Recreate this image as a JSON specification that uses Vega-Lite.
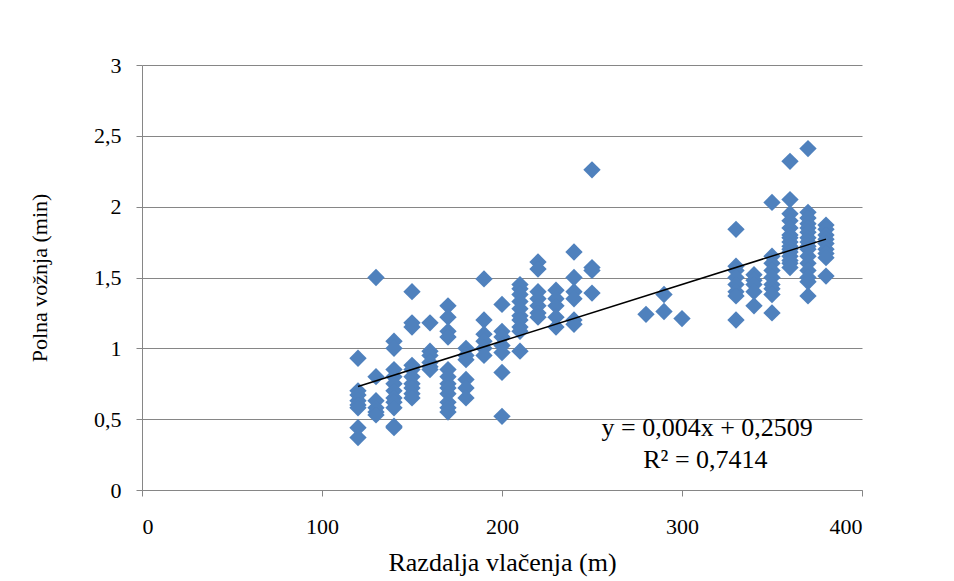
{
  "$schema": "https://vega.github.io/schema/vega-lite/v6.json",
  "width": 720,
  "height": 425,
  "autosize": {"type": "none"},
  "padding": {"left": 142, "top": 65, "right": 92, "bottom": 91},
  "background": "white",
  "config": {
    "view": {"stroke": null},
    "font": "Liberation Serif",
    "axis": {
      "labelFont": "Liberation Serif",
      "titleFont": "Liberation Serif",
      "labelColor": "black",
      "titleColor": "black",
      "titleFontWeight": "normal",
      "labelFontSize": 22,
      "titleFontSize": 24,
      "domainColor": "#868686",
      "tickColor": "#868686",
      "gridColor": "#868686",
      "gridOpacity": 1,
      "tickSize": 6
    }
  },
  "datasets": {
    "pts": [
      {"d":120,"t":0.93},{"d":120,"t":0.70},{"d":120,"t":0.67},{"d":120,"t":0.63},{"d":120,"t":0.60},{"d":120,"t":0.58},{"d":120,"t":0.44},{"d":120,"t":0.37},
      {"d":130,"t":1.50},{"d":130,"t":0.80},{"d":130,"t":0.63},{"d":130,"t":0.58},{"d":130,"t":0.55},{"d":130,"t":0.53},
      {"d":140,"t":1.05},{"d":140,"t":1.00},{"d":140,"t":0.85},{"d":140,"t":0.80},{"d":140,"t":0.75},{"d":140,"t":0.70},{"d":140,"t":0.65},{"d":140,"t":0.62},{"d":140,"t":0.58},{"d":140,"t":0.45},{"d":140,"t":0.44},
      {"d":150,"t":1.40},{"d":150,"t":1.18},{"d":150,"t":1.15},{"d":150,"t":0.88},{"d":150,"t":0.85},{"d":150,"t":0.80},{"d":150,"t":0.75},{"d":150,"t":0.72},{"d":150,"t":0.68},{"d":150,"t":0.65},
      {"d":160,"t":1.18},{"d":160,"t":0.98},{"d":160,"t":0.95},{"d":160,"t":0.90},{"d":160,"t":0.87},{"d":160,"t":0.85},
      {"d":170,"t":1.30},{"d":170,"t":1.22},{"d":170,"t":1.12},{"d":170,"t":1.08},{"d":170,"t":0.85},{"d":170,"t":0.80},{"d":170,"t":0.75},{"d":170,"t":0.72},{"d":170,"t":0.68},{"d":170,"t":0.62},{"d":170,"t":0.58},{"d":170,"t":0.55},
      {"d":180,"t":1.00},{"d":180,"t":0.95},{"d":180,"t":0.92},{"d":180,"t":0.78},{"d":180,"t":0.72},{"d":180,"t":0.65},
      {"d":190,"t":1.49},{"d":190,"t":1.20},{"d":190,"t":1.10},{"d":190,"t":1.05},{"d":190,"t":1.00},{"d":190,"t":0.95},
      {"d":200,"t":1.31},{"d":200,"t":1.12},{"d":200,"t":1.08},{"d":200,"t":1.02},{"d":200,"t":0.97},{"d":200,"t":0.83},{"d":200,"t":0.52},
      {"d":210,"t":1.45},{"d":210,"t":1.42},{"d":210,"t":1.38},{"d":210,"t":1.33},{"d":210,"t":1.28},{"d":210,"t":1.23},{"d":210,"t":1.20},{"d":210,"t":1.15},{"d":210,"t":1.12},{"d":210,"t":0.98},
      {"d":220,"t":1.61},{"d":220,"t":1.56},{"d":220,"t":1.40},{"d":220,"t":1.35},{"d":220,"t":1.30},{"d":220,"t":1.25},{"d":220,"t":1.22},
      {"d":230,"t":1.41},{"d":230,"t":1.35},{"d":230,"t":1.30},{"d":230,"t":1.22},{"d":230,"t":1.15},
      {"d":240,"t":1.68},{"d":240,"t":1.50},{"d":240,"t":1.40},{"d":240,"t":1.35},{"d":240,"t":1.20},{"d":240,"t":1.17},
      {"d":250,"t":2.26},{"d":250,"t":1.57},{"d":250,"t":1.55},{"d":250,"t":1.39},
      {"d":280,"t":1.24},
      {"d":290,"t":1.38},{"d":290,"t":1.26},
      {"d":300,"t":1.21},
      {"d":330,"t":1.84},{"d":330,"t":1.58},{"d":330,"t":1.55},{"d":330,"t":1.50},{"d":330,"t":1.45},{"d":330,"t":1.40},{"d":330,"t":1.37},{"d":330,"t":1.20},
      {"d":340,"t":1.52},{"d":340,"t":1.48},{"d":340,"t":1.45},{"d":340,"t":1.40},{"d":340,"t":1.30},
      {"d":350,"t":2.03},{"d":350,"t":1.65},{"d":350,"t":1.60},{"d":350,"t":1.55},{"d":350,"t":1.50},{"d":350,"t":1.45},{"d":350,"t":1.42},{"d":350,"t":1.38},{"d":350,"t":1.25},
      {"d":360,"t":2.32},{"d":360,"t":2.05},{"d":360,"t":1.95},{"d":360,"t":1.90},{"d":360,"t":1.85},{"d":360,"t":1.80},{"d":360,"t":1.78},{"d":360,"t":1.75},{"d":360,"t":1.72},{"d":360,"t":1.70},{"d":360,"t":1.68},{"d":360,"t":1.65},{"d":360,"t":1.62},{"d":360,"t":1.60},{"d":360,"t":1.57},
      {"d":370,"t":2.41},{"d":370,"t":1.96},{"d":370,"t":1.92},{"d":370,"t":1.88},{"d":370,"t":1.85},{"d":370,"t":1.82},{"d":370,"t":1.78},{"d":370,"t":1.75},{"d":370,"t":1.72},{"d":370,"t":1.70},{"d":370,"t":1.65},{"d":370,"t":1.60},{"d":370,"t":1.55},{"d":370,"t":1.50},{"d":370,"t":1.47},{"d":370,"t":1.37},
      {"d":380,"t":1.87},{"d":380,"t":1.84},{"d":380,"t":1.80},{"d":380,"t":1.77},{"d":380,"t":1.74},{"d":380,"t":1.70},{"d":380,"t":1.67},{"d":380,"t":1.64},{"d":380,"t":1.51}
    ],
    "trend": [
      {"d": 120, "t": 0.7309},
      {"d": 380, "t": 1.7709}
    ],
    "eq": [
      {"d": 314, "t": 0.44, "label": "y = 0,004x + 0,2509"},
      {"d": 313, "t": 0.215, "label": "R² = 0,7414"}
    ]
  },
  "encoding": {
    "x": {
      "field": "d", "type": "quantitative",
      "scale": {"domain": [0, 400], "nice": false},
      "axis": {"values": [0, 100, 200, 300, 400], "grid": false, "labelPadding": 20, "title": "Razdalja vlačenja (m)", "titleFontSize": 26, "titlePadding": 12}
    },
    "y": {
      "field": "t", "type": "quantitative",
      "scale": {"domain": [0, 3], "nice": false},
      "axis": {"values": [0, 0.5, 1, 1.5, 2, 2.5, 3], "grid": true, "labelPadding": 15, "labelExpr": "replace(format(datum.value, '~g'), '.', ',')", "title": "Polna vožnja (min)", "titleFontSize": 22, "titlePadding": 42}
    }
  },
  "layer": [
    {
      "data": {"name": "pts"},
      "mark": {"type": "point", "shape": "diamond", "filled": true, "opacity": 1, "color": "#4F81BD", "size": 300}
    },
    {
      "data": {"name": "trend"},
      "mark": {"type": "line", "color": "black", "strokeWidth": 1.5}
    },
    {
      "data": {"name": "eq"},
      "mark": {"type": "text", "font": "Liberation Serif", "fontSize": 26, "color": "black", "align": "center", "baseline": "middle"},
      "encoding": {"text": {"field": "label"}}
    }
  ]
}
